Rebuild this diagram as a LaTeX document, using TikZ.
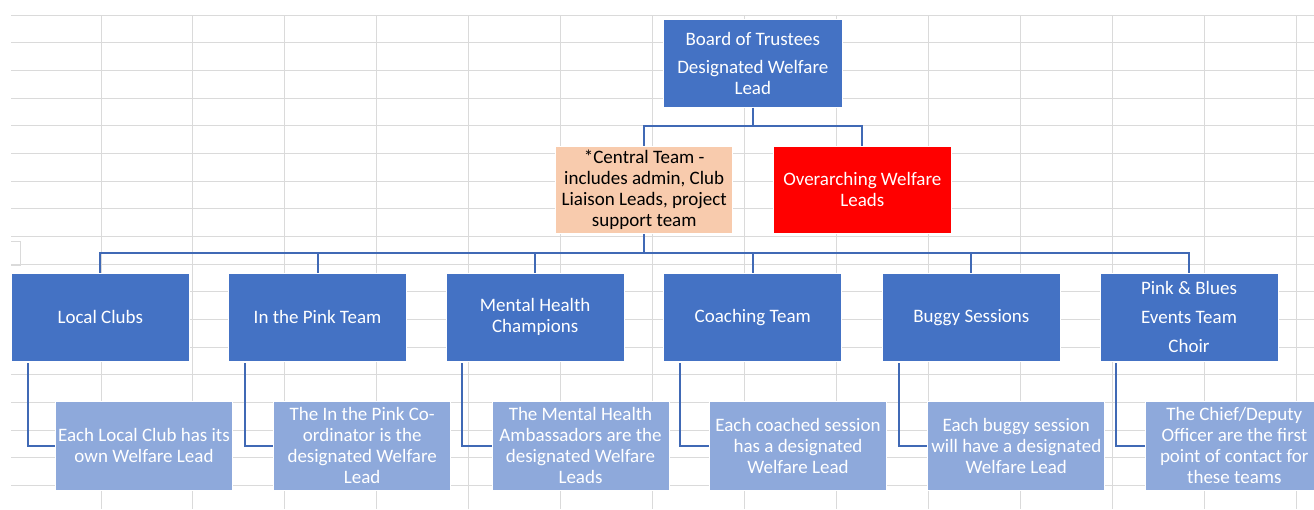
\documentclass[tikz,border=0pt]{standalone}
\usepackage{fontspec}
\setmainfont{Carlito}
\definecolor{boxblue}{HTML}{4472C4}
\definecolor{lightblue}{HTML}{8EA9DB}
\definecolor{peach}{HTML}{F8CBAD}
\definecolor{gridgray}{HTML}{DADADA}
\definecolor{linkblue}{HTML}{4069B5}
\tikzset{
  box/.style={rectangle, inner sep=0pt, draw=white, line width=0.8pt, align=center,
    font=\fontsize{19}{21}\selectfont},
  bluebox/.style={box, fill=boxblue, text=white, minimum width=178pt, minimum height=88pt},
  notebox/.style={box, fill=lightblue, text=white, minimum width=177pt, minimum height=88.5pt},
  conn/.style={draw=linkblue, line width=2pt},
  gridline/.style={draw=gridgray, line width=1pt}
}
\begin{document}
\begin{tikzpicture}[x=1pt,y=-1pt]
\useasboundingbox (0,0) rectangle (1314,509);
\fill[white] (0,0) rectangle (1314,509);
% spreadsheet grid
\foreach \k in {0,...,17} {
  \draw[gridline] (11,{15+27.68*\k}) -- (1314,{15+27.68*\k});
}
\foreach \k in {0,...,13} {
  \draw[gridline] ({101+91.97*\k},15) -- ({101+91.97*\k},509);
}
\draw[draw=gridgray, line width=1pt] (11,241) -- (20,241) -- (20,265) -- (11,265);

% top levels
\node[bluebox, minimum width=179pt] (board) at (752.8,63.3) {Board of Trustees\\[7pt]Designated Welfare\\Lead};
\node[box, fill=peach, text=black, minimum width=177pt, minimum height=87.3pt] (central) at (644.2,189.7)
  {*Central Team -\\includes admin, Club\\Liaison Leads, project\\support team};
\node[box, fill=red, text=white, minimum width=178pt, minimum height=87.3pt] (over) at (862.3,189.7)
  {Overarching Welfare\\Leads};

% second level
\node[bluebox] (l1) at (100.3,317.2) {Local Clubs};
\node[bluebox] (l2) at (317.5,317.2) {In the Pink Team};
\node[bluebox] (l3) at (535.2,317.2) {Mental Health\\Champions};
\node[bluebox] (l4) at (752.8,317.2) {Coaching Team};
\node[bluebox] (l5) at (971.3,317.2) {Buggy Sessions};
\node[bluebox] (l6) at (1189,317.2) {Pink \& Blues\\[8pt]Events Team\\[8pt]Choir};

% third level
\node[notebox] (d1) at (144,445.8) {Each Local Club has its\\own Welfare Lead};
\node[notebox] (d2) at (362.2,445.8) {The In the Pink Co-\\ordinator is the\\designated Welfare\\Lead};
\node[notebox] (d3) at (580.5,445.8) {The Mental Health\\Ambassadors are the\\designated Welfare\\Leads};
\node[notebox] (d4) at (798,445.8) {Each coached session\\has a designated\\Welfare Lead};
\node[notebox] (d5) at (1016.3,445.8) {Each buggy session\\will have a designated\\Welfare Lead};
\node[notebox] (d6) at (1234.3,445.8) {The Chief/Deputy\\Officer are the first\\point of contact for\\these teams};

% connectors
\coordinate (j1) at (752.8,125.7);
\coordinate (j2) at (644.2,253.3);
\draw[conn] (board.south) -- (j1) -| (central.north);
\draw[conn] (j1) -| (over.north);
\draw[conn] (central.south) -- (j2);
\foreach \n in {1,...,6} {
  \draw[conn] (j2) -| (l\n.north);
  \draw[conn] ([xshift=16.6pt,yshift=-1.5pt]l\n.south west) |- (d\n.west);
}
\end{tikzpicture}
\end{document}
